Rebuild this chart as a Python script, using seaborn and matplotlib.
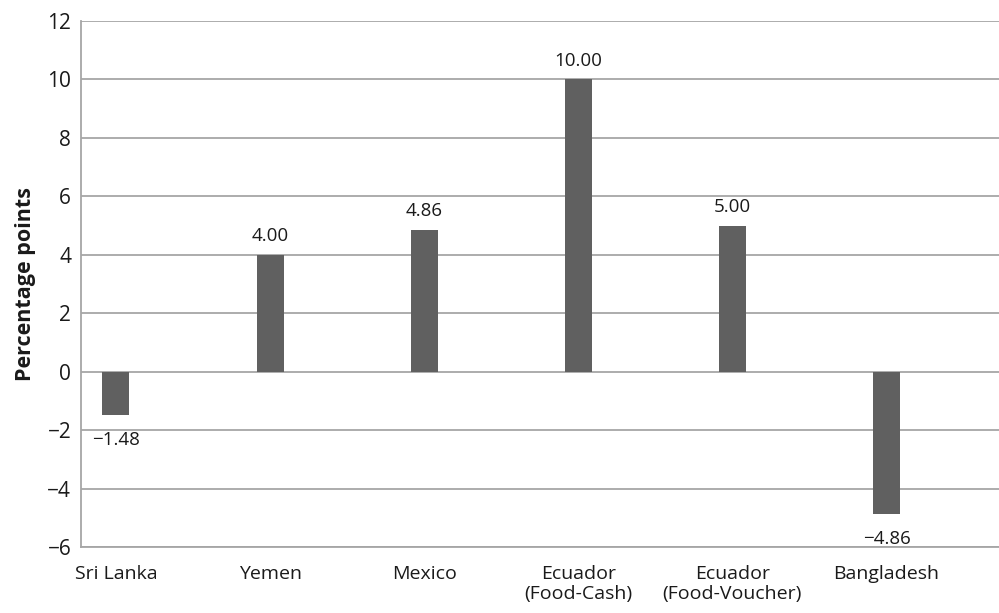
import matplotlib
matplotlib.use("Agg")
import matplotlib.pyplot as plt
import seaborn as sns
import pandas as pd

categories = ["Sri Lanka", "Yemen", "Mexico", "Ecuador\n(Food-Cash)", "Ecuador\n(Food-Voucher)", "Bangladesh"]
values = [-1.48, 4.00, 4.86, 10.00, 5.00, -4.86]
y_ticks = [-6, -4, -2, 0, 2, 4, 6, 8, 10, 12]

sns.set_theme(style="white")
plt.rcParams['font.family'] = ['Open Sans', 'DejaVu Sans']

df = pd.DataFrame({"cat": categories, "val": values})

fig = plt.figure(figsize=(9.99, 6.13), dpi=100)
ax = fig.add_axes([0.081, 0.1077, 0.919, 0.858])

sns.barplot(data=df, x="cat", y="val", color="#606060", width=0.175,
            saturation=1, ax=ax, zorder=3)
for p in ax.patches:
    p.set_edgecolor("none")

ax.set_ylim(-6, 12)
ax.set_yticks(y_ticks)
ax.set_xlim(-0.227, 5.73)
ax.yaxis.grid(True, color="#a6a6a6", linewidth=1.3, zorder=0)
ax.set_axisbelow(True)
for s in ["top", "right"]:
    ax.spines[s].set_visible(False)
ax.spines["left"].set_color("#a6a6a6")
ax.spines["left"].set_linewidth(1.3)
ax.spines["bottom"].set_color("#a6a6a6")
ax.spines["bottom"].set_linewidth(1.3)

ax.tick_params(axis="y", labelsize=15, length=0, pad=7, colors="#1a1a1a")
ax.tick_params(axis="x", labelsize=14, length=0, pad=13, colors="#1a1a1a")
for lbl in ax.get_xticklabels():
    lbl.set_linespacing(1.15)
ax.set_xlabel("")
ax.set_ylabel("Percentage points", fontsize=15.5, fontweight="bold", color="#1a1a1a", labelpad=8)

for i, v in enumerate(values):
    txt = f"{v:.2f}".replace("-", "\u2212")
    if v >= 0:
        ax.annotate(txt, (i, v), xytext=(0, 7), textcoords="offset points",
                    ha="center", va="bottom", fontsize=13.5, color="#1a1a1a")
    else:
        ax.annotate(txt, (i, v), xytext=(0, -11.5), textcoords="offset points",
                    ha="center", va="top", fontsize=13.5, color="#1a1a1a")

fig.savefig("out.png", dpi=100)
